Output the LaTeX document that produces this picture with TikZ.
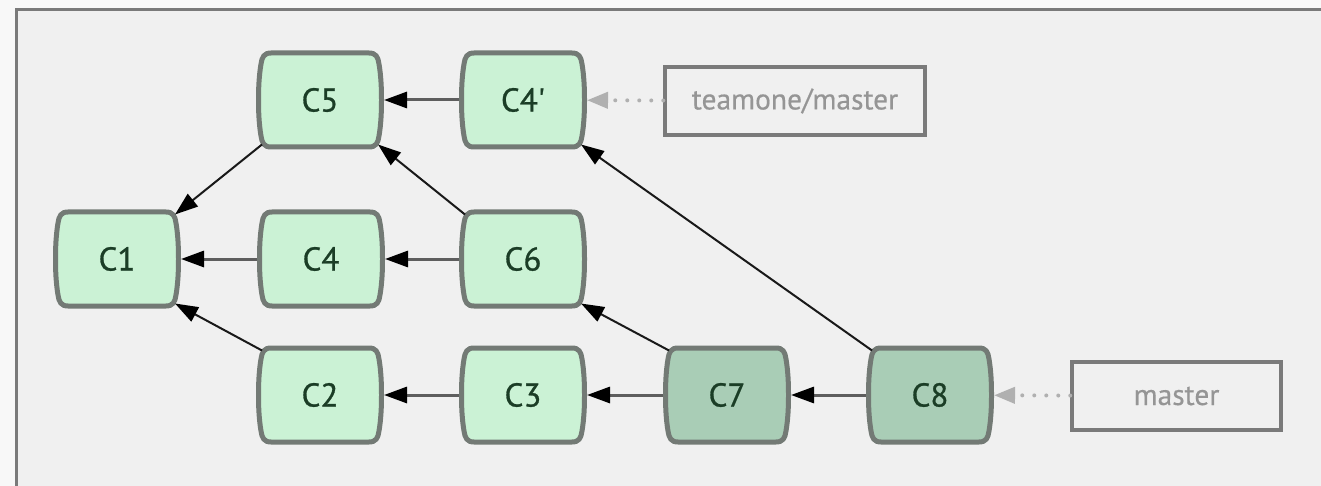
\documentclass[tikz,border=0pt]{standalone}
\usepackage{fontspec}
\setmainfont{PT Sans}
\newfontfamily\commitfont[FakeBold=0.8]{PT Sans}
\newfontfamily\labelfont[FakeBold=0.4]{PT Sans}
\usetikzlibrary{arrows.meta}
\definecolor{outerbg}{HTML}{F8F8F8}
\definecolor{innerbg}{HTML}{F0F0F0}
\definecolor{framegray}{HTML}{7A7A7A}
\definecolor{commitlight}{HTML}{CBF2D5}
\definecolor{commitdark}{HTML}{A9CDB6}
\definecolor{commitborder}{HTML}{737A75}
\definecolor{committext}{HTML}{1B3D26}
\definecolor{labelborder}{HTML}{7A7A7A}
\definecolor{labeltext}{HTML}{959595}
\definecolor{refarrow}{HTML}{B0B0B0}
\definecolor{hline}{HTML}{5E5E5E}
\pgfdeclarelayer{back}
\pgfdeclarelayer{shapes}
\pgfsetlayers{back,shapes,main}
\tikzset{
  commit/.style={minimum width=128pt, minimum height=99pt, outer sep=0pt,
    inner sep=0pt, text=committext, font=\commitfont\fontsize{33}{33}\selectfont},
  commitline/.style={draw=commitborder, line width=5pt},
  reflabel/.style={draw=labelborder, line width=3.5pt, fill=innerbg,
    inner sep=0pt, text=labeltext, font=\labelfont\fontsize{29.5}{29.5}\selectfont},
  parent/.style={draw=hline, line width=3pt,
    -{Triangle[length=23pt,width=16pt,color=black]}},
  diagparent/.style={draw=black!90, line width=2pt,
    -{Triangle[length=23pt,width=16pt,color=black]}},
  refptr/.style={draw=refarrow, line width=4pt,
    dash pattern=on 0pt off 12pt, line cap=round,
    -{Triangle[length=21pt,width=16pt,color=refarrow,line cap=butt]}}
}
\newcommand\commitshape[2]{%
  \begin{pgfonlayer}{shapes}
  \draw[commitline, fill=#2]
    ([shift={(-49,-47)}]#1.center) -- ([shift={(49,-47)}]#1.center)
    .. controls ([shift={(56,-47)}]#1.center) and ([shift={(58,-43)}]#1.center) .. ([shift={(59,-36)}]#1.center)
    .. controls ([shift={(61,-24)}]#1.center) and ([shift={(61.5,-12)}]#1.center) .. ([shift={(61.5,0)}]#1.center)
    .. controls ([shift={(61.5,12)}]#1.center) and ([shift={(61,24)}]#1.center) .. ([shift={(59,36)}]#1.center)
    .. controls ([shift={(58,43)}]#1.center) and ([shift={(56,47)}]#1.center) .. ([shift={(49,47)}]#1.center)
    -- ([shift={(-49,47)}]#1.center)
    .. controls ([shift={(-56,47)}]#1.center) and ([shift={(-58,43)}]#1.center) .. ([shift={(-59,36)}]#1.center)
    .. controls ([shift={(-61,24)}]#1.center) and ([shift={(-61.5,12)}]#1.center) .. ([shift={(-61.5,0)}]#1.center)
    .. controls ([shift={(-61.5,-12)}]#1.center) and ([shift={(-61,-24)}]#1.center) .. ([shift={(-59,-36)}]#1.center)
    .. controls ([shift={(-58,-43)}]#1.center) and ([shift={(-56,-47)}]#1.center) .. ([shift={(-49,-47)}]#1.center)
    -- cycle;
  \end{pgfonlayer}}
\begin{document}
\begin{tikzpicture}[x=1pt,y=-1pt]
  \useasboundingbox (0,0) rectangle (1321,486);
  \begin{pgfonlayer}{back}
  \fill[outerbg] (0,0) rectangle (1321,486);
  \clip (0,0) rectangle (1321,486);
  \draw[framegray, line width=3pt, fill=innerbg] (16.5,9.5) rectangle (1345,510);
  \end{pgfonlayer}

  \node[commit] (C5) at (320,100) {C5};
  \node[commit] (C4p) at (523,100) {C4\textquotesingle};
  \node[commit] (C1) at (117,259) {C1};
  \node[commit] (C4) at (321,259) {C4};
  \node[commit] (C6) at (523,259) {C6};
  \node[commit] (C2) at (320,395) {C2};
  \node[commit] (C3) at (523,395) {C3};
  \node[commit] (C7) at (727,395) {C7};
  \node[commit] (C8) at (930,395) {C8};

  \commitshape{C5}{commitlight}
  \commitshape{C4p}{commitlight}
  \commitshape{C1}{commitlight}
  \commitshape{C4}{commitlight}
  \commitshape{C6}{commitlight}
  \commitshape{C2}{commitlight}
  \commitshape{C3}{commitlight}
  \commitshape{C7}{commitdark}
  \commitshape{C8}{commitdark}

  \node[reflabel, minimum width=260pt, minimum height=68pt] (tm) at (795,101) {teamone/master};
  \node[reflabel, minimum width=209pt, minimum height=68pt] (ms) at (1176.5,396) {master};

  \draw[parent] (C4p) -- (C5);
  \draw[parent] (C4) -- (C1);
  \draw[parent] (C6) -- (C4);
  \draw[parent] (C3) -- (C2);
  \draw[parent] (C7) -- (C3);
  \draw[parent] (C8) -- (C7);
  \draw[diagparent] ([shift={(6,-5)}]C5.south west) -- ([shift={(-6,5)}]C1.north east);
  \draw[diagparent] ([shift={(6,5)}]C2.north west) -- ([shift={(-6,-5)}]C1.south east);
  \draw[diagparent] ([shift={(6,5)}]C6.north west) -- ([shift={(-6,-5)}]C5.south east);
  \draw[diagparent] ([shift={(6,5)}]C7.north west) -- ([shift={(-6,-5)}]C6.south east);
  \draw[diagparent] ([shift={(6,5)}]C8.north west) -- ([shift={(-6,-5)}]C4p.south east);

  \draw[refptr] (tm) -- (C4p);
  \draw[refptr] (ms) -- (C8);
\end{tikzpicture}
\end{document}
